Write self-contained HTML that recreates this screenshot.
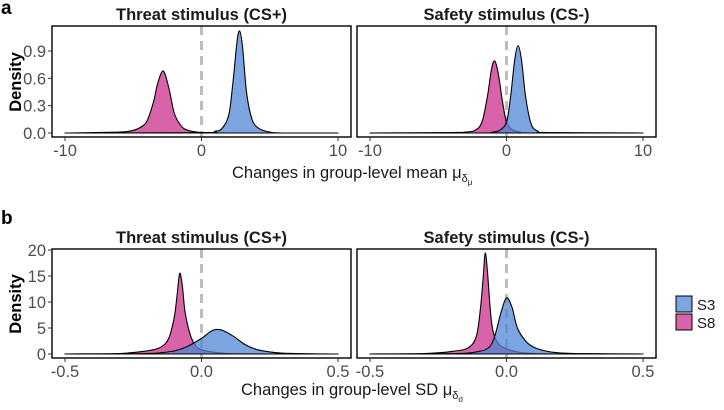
<!DOCTYPE html>
<html><head><meta charset="utf-8"><style>
body{margin:0;background:#fff;width:724px;height:405px;overflow:hidden}
svg{font-family:"Liberation Sans",Arial,sans-serif}
</style></head><body>
<svg id="c" width="724" height="405"></svg>
<script>
// Panel a: mean changes
const aThreatS3x=[-10,0,1,1.5,2,2.3,2.6,2.8,3.0,3.3,3.7,4.2,5,6,10];
const aThreatS3y=[0,0.003,0.02,0.05,0.2,0.55,1.0,1.12,0.95,0.45,0.15,0.05,0.01,0,0];
const aThreatS8x=[-10,-6,-5,-4.5,-4,-3.5,-3.2,-2.8,-2.4,-2,-1.5,-1,0,2,10];
const aThreatS8y=[0,0.01,0.03,0.06,0.13,0.35,0.55,0.68,0.5,0.22,0.08,0.03,0.005,0,0];
const aSafeS3x=[-10,-2,-1,-0.5,0,0.3,0.6,0.85,1.1,1.4,1.8,2.3,3,10];
const aSafeS3y=[0,0,0.01,0.03,0.12,0.4,0.8,0.96,0.8,0.4,0.1,0.02,0.005,0];
const aSafeS8x=[-10,-4,-3,-2.3,-1.8,-1.4,-1.1,-0.86,-0.6,-0.3,0,0.4,1,2,10];
const aSafeS8y=[0,0.005,0.01,0.03,0.12,0.4,0.7,0.79,0.65,0.35,0.12,0.04,0.01,0,0];
// Panel b: SD changes
const bThreatS3x=[-0.5,-0.2,-0.1,-0.05,0,0.03,0.05,0.08,0.12,0.16,0.2,0.25,0.3,0.4,0.5];
const bThreatS3y=[0,0.1,0.6,1.5,3.0,4.2,4.7,4.5,3.3,1.8,0.9,0.4,0.15,0.03,0];
const bThreatS8x=[-0.5,-0.3,-0.2,-0.15,-0.12,-0.1,-0.09,-0.08,-0.07,-0.06,-0.04,-0.02,0,0.05,0.1,0.2,0.5];
const bThreatS8y=[0,0.1,0.6,1.3,3,7,11,15.5,13,8,3.5,1.5,0.8,0.3,0.1,0.02,0];
const bSafeS3x=[-0.5,-0.2,-0.1,-0.06,-0.04,-0.02,0,0.02,0.04,0.07,0.1,0.15,0.2,0.3,0.5];
const bSafeS3y=[0,0.05,0.5,1.5,4,8,10.8,9,5,2.5,1.3,0.5,0.2,0.05,0];
const bSafeS8x=[-0.5,-0.3,-0.2,-0.14,-0.11,-0.095,-0.085,-0.078,-0.07,-0.06,-0.05,-0.03,0,0.05,0.1,0.2,0.5];
const bSafeS8y=[0,0.1,0.5,1.2,3.5,9,15,19.4,16,9,4.5,2,1,0.3,0.1,0.02,0];
const aTicksY=[0.0,0.3,0.6,0.9];
const bTicksY=[0,5,10,15,20];
const aTicksX=[-10,0,10];
const bTicksX=[-0.5,0.0,0.5];

const NS="http://www.w3.org/2000/svg";
const svg=document.getElementById('c');
function mk(t,a,p){const e=document.createElementNS(NS,t);for(const k in a)e.setAttribute(k,a[k]);(p||svg).appendChild(e);return e;}
const BLUE="#4f86d6",PINK="#cc2f8c";

function smooth(pts){
  let d='';
  for(let i=0;i<pts.length-1;i++){
    const p0=pts[Math.max(0,i-1)],p1=pts[i],p2=pts[i+1],p3=pts[Math.min(pts.length-1,i+2)];
    let c1y=p1[1]+(p2[1]-p0[1])/6, c2y=p2[1]-(p3[1]-p1[1])/6;
    const base=Math.max(p1[1],p2[1]);
    c1y=Math.min(c1y,base);c2y=Math.min(c2y,base);
    d+=' C'+(p1[0]+(p2[0]-p0[0])/6).toFixed(1)+','+c1y.toFixed(1)+' '+(p2[0]-(p3[0]-p1[0])/6).toFixed(1)+','+c2y.toFixed(1)+' '+p2[0].toFixed(1)+','+p2[1].toFixed(1);
  }
  return d;
}

function panel(x0,x1,y0,y1,xmin,xmax,ymax,y0px,ymaxpx,ticksX,ticksY,fmtX,fmtY,series,title,name,showY){
  const g=mk('g',{});
  
  
  const sx=v=>x0+13+(v-xmin)/(xmax-xmin)*(x1-x0-26);
  const sy=v=>y0px-(v/ymax)*(y0px-ymaxpx);
  const t=mk('text',{x:(x0+x1)/2,y:y0-6,'text-anchor':'middle','font-size':'16.5','font-weight':'bold',fill:'#1a1a1a'},g);
  t.textContent=title;
  
  
  const z=mk('line',{x1:sx(0),x2:sx(0),y1:y0,y2:y1,stroke:'#bdbdbd','stroke-width':'3','stroke-dasharray':'9,6'},g);
  
  
  series.forEach(s=>{
    const pts=s.x.map((v,i)=>[sx(v),sy(s.y[i])]);
    const d='M'+pts[0][0]+','+sy(0)+' L'+pts[0][0].toFixed(1)+','+pts[0][1].toFixed(1)+smooth(pts)+' L'+pts[pts.length-1][0]+','+sy(0)+'Z';
    const p=mk('path',{d:d,fill:s.c,'fill-opacity':'0.75',stroke:'#000','stroke-width':'1.1','stroke-linejoin':'round'},g);
    
    
  });
  const r=mk('rect',{x:x0,y:y0,width:x1-x0,height:y1-y0,fill:'none',stroke:'#000','stroke-width':'1.4'},g);
  
  
  ticksX.forEach(v=>{
    mk('line',{x1:sx(v),x2:sx(v),y1:y1,y2:y1+4,stroke:'#333'},g);
    const tt=mk('text',{x:sx(v),y:y1+19,'text-anchor':'middle','font-size':'16.5',fill:'#4d4d4d'},g);
    tt.textContent=fmtX(v);
    
    
  });
  if(showY) ticksY.forEach(v=>{
    mk('line',{x1:x0-4,x2:x0,y1:sy(v),y2:sy(v),stroke:'#333'},g);
    const tt=mk('text',{x:x0-6,y:sy(v)+6,'text-anchor':'end','font-size':'16.5',fill:'#4d4d4d'},g);
    tt.textContent=fmtY(v);
    
    
  });
}
const fa=v=>v.toFixed(1), fi=v=>String(v), fb=v=>v.toFixed(1);
panel(52,351,26,137,-10,10,0.9,133,51,aTicksX,aTicksY,fi,fa,
 [{x:aThreatS8x,y:aThreatS8y,c:PINK,n:'s8'},{x:aThreatS3x,y:aThreatS3y,c:BLUE,n:'s3'}],'Threat stimulus (CS+)','panel-a-threat',true);
panel(357,656,26,137,-10,10,0.9,133,51,aTicksX,aTicksY,fi,fa,
 [{x:aSafeS8x,y:aSafeS8y,c:PINK,n:'s8'},{x:aSafeS3x,y:aSafeS3y,c:BLUE,n:'s3'}],'Safety stimulus (CS-)','panel-a-safety',false);
panel(52,351,249,358,-0.5,0.5,20,354,250,bTicksX,bTicksY,fb,fi,
 [{x:bThreatS8x,y:bThreatS8y,c:PINK,n:'s8'},{x:bThreatS3x,y:bThreatS3y,c:BLUE,n:'s3'}],'Threat stimulus (CS+)','panel-b-threat',true);
panel(357,656,249,358,-0.5,0.5,20,354,250,bTicksX,bTicksY,fb,fi,
 [{x:bSafeS8x,y:bSafeS8y,c:PINK,n:'s8'},{x:bSafeS3x,y:bSafeS3y,c:BLUE,n:'s3'}],'Safety stimulus (CS-)','panel-b-safety',false);
</script>
<svg style="position:absolute;left:0;top:0" width="724" height="405">
<text x="1" y="14" font-size="19" font-weight="bold" fill="#000">a</text>
<text x="1" y="224" font-size="19" font-weight="bold" fill="#000">b</text>
<text transform="translate(21,82) rotate(-90)" text-anchor="middle" font-size="16.5" font-weight="bold">Density</text>
<text transform="translate(21,304) rotate(-90)" text-anchor="middle" font-size="16.5" font-weight="bold">Density</text>
<text x="232" y="178" font-size="16.5" fill="#1a1a1a">Changes in group-level mean μ<tspan font-size="11" dy="4">δ</tspan><tspan font-size="8" dy="3">μ</tspan></text>
<text x="241" y="395" font-size="16.5" fill="#1a1a1a">Changes in group-level SD μ<tspan font-size="11" dy="4">δ</tspan><tspan font-size="8" dy="3">σ</tspan></text>
<g>
<rect x="676" y="296" width="16" height="16" fill="#4f86d6" fill-opacity="0.75" stroke="#000"/>
<text x="697" y="310" font-size="15" fill="#1a1a1a">S3</text>
<rect x="676" y="314" width="16" height="16" fill="#cc2f8c" fill-opacity="0.75" stroke="#000"/>
<text x="697" y="328" font-size="15" fill="#1a1a1a">S8</text>
</g>
</svg>
</body></html>
